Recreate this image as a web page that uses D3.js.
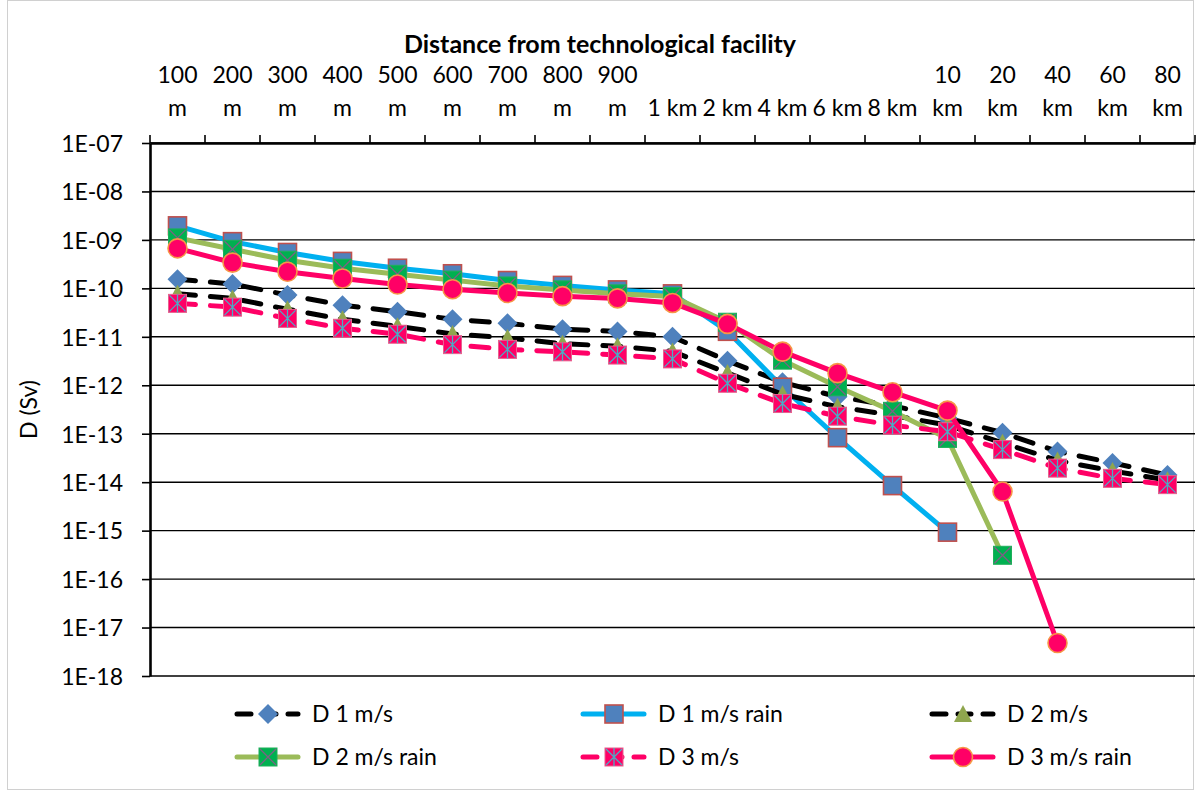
<!DOCTYPE html>
<html>
<head>
<meta charset="utf-8">
<script src="https://cdn.jsdelivr.net/npm/d3@7.8.5/dist/d3.min.js"></script>
<style>
  body { margin: 0; background: #fff; }
  text { font-family: Lato, "Open Sans", sans-serif; fill: #000; }
</style>
</head>
<body>
<svg id="chart" width="1200" height="793"></svg>
<script>
// Distance categories along the top axis
const categories = ["100 m", "200 m", "300 m", "400 m", "500 m", "600 m", "700 m", "800 m", "900 m",
  "1 km", "2 km", "4 km", "6 km", "8 km", "10 km", "20 km", "40 km", "60 km", "80 km"];

// Dose axis ticks (Sv)
const yTickValues = [1e-7, 1e-8, 1e-9, 1e-10, 1e-11, 1e-12, 1e-13, 1e-14, 1e-15, 1e-16, 1e-17, 1e-18];
const yTickLabels = ["1E-07", "1E-08", "1E-09", "1E-10", "1E-11", "1E-12", "1E-13", "1E-14", "1E-15", "1E-16", "1E-17", "1E-18"];

const seriesNames = ["D 1 m/s", "D 1 m/s rain", "D 2 m/s", "D 2 m/s rain", "D 3 m/s", "D 3 m/s rain"];

// Dose values per distance; null where no value is given
const d1 = [1.55e-10, 1.23e-10, 7.3e-11, 4.5e-11, 3.3e-11, 2.3e-11, 1.9e-11, 1.44e-11, 1.29e-11, 1.0e-11,
  3.2e-12, 1.15e-12, 5.8e-13, 3.8e-13, 2.1e-13, 1.05e-13, 4.3e-14, 2.5e-14, 1.4e-14];
const d1Rain = [1.95e-9, 9.2e-10, 5.5e-10, 3.6e-10, 2.6e-10, 2.0e-10, 1.45e-10, 1.15e-10, 9.3e-11, 7.7e-11,
  1.3e-11, 9.1e-13, 8.3e-14, 8.5e-15, 9.3e-16, null, null, null, null];
const d2 = [7.7e-11, 6.2e-11, 3.7e-11, 2.3e-11, 1.65e-11, 1.15e-11, 9.5e-12, 7.2e-12, 6.4e-12, 5.0e-12,
  1.8e-12, 6.5e-13, 3.6e-13, 2.4e-13, 1.5e-13, 6.5e-14, 2.8e-14, 1.7e-14, 1.1e-14];
const d2Rain = [1.1e-9, 6.4e-10, 3.8e-10, 2.6e-10, 1.95e-10, 1.48e-10, 1.12e-10, 9.3e-11, 7.7e-11, 6.8e-11,
  2.0e-11, 3.3e-12, 9.3e-13, 2.9e-13, 8.0e-14, 3.1e-16, null, null, null];
const d3s = [4.9e-11, 4.1e-11, 2.4e-11, 1.5e-11, 1.13e-11, 6.9e-12, 5.5e-12, 4.9e-12, 4.2e-12, 3.5e-12,
  1.1e-12, 4.2e-13, 2.3e-13, 1.5e-13, 1.1e-13, 4.7e-14, 1.95e-14, 1.2e-14, 8.9e-15];
const d3Rain = [6.7e-10, 3.4e-10, 2.2e-10, 1.6e-10, 1.2e-10, 9.6e-11, 8.0e-11, 6.9e-11, 6.2e-11, 5.0e-11,
  1.85e-11, 4.95e-12, 1.78e-12, 7.2e-13, 3.0e-13, 6.4e-15, 4.8e-18, null, null];

const seriesValues = [d1, d1Rain, d2, d2Rain, d3s, d3Rain];

// Appearance of each series
const styles = [
  { stroke: "#000000", dash: "18,15", marker: "diamond" },
  { stroke: "#00B0F0", dash: null, marker: "square" },
  { stroke: "#000000", dash: "18,15", marker: "triangle" },
  { stroke: "#9BBB59", dash: null, marker: "xsquare" },
  { stroke: "#FF0066", dash: "18,15", marker: "starsquare" },
  { stroke: "#FF0066", dash: null, marker: "circle" }
];

const svg = d3.select("#chart");
svg.append("rect").attr("width", 1200).attr("height", 793).attr("fill", "#fff");
// chart area frame
svg.append("rect").attr("x", 7.5).attr("y", 0.5).attr("width", 1186).attr("height", 789)
  .attr("fill", "none").attr("stroke", "#d0d0d0").attr("stroke-width", 1);

const plot = { left: 150, right: 1195, top: 143, bottom: 676 };

const x = d3.scaleBand().domain(categories).range([plot.left, plot.right]).padding(0);
const y = d3.scaleLog().domain([1e-18, 1e-7]).range([plot.bottom, plot.top]);
const cx = c => x(c) + x.bandwidth() / 2;

// horizontal gridlines
svg.append("g").selectAll("line").data(yTickValues).join("line")
  .attr("x1", plot.left).attr("x2", plot.right)
  .attr("y1", d => y(d)).attr("y2", d => y(d))
  .attr("stroke", "#000").attr("stroke-width", 1.4);

// left axis
const yAxis = svg.append("g").attr("transform", `translate(${plot.left},0)`)
  .call(d3.axisLeft(y).tickValues(yTickValues).tickFormat((d, i) => yTickLabels[i])
    .tickSizeInner(8).tickSizeOuter(0).tickPadding(19));
yAxis.select(".domain").attr("stroke", "#000").attr("stroke-width", 2.6);
yAxis.selectAll(".tick line").attr("stroke", "#000").attr("stroke-width", 1.6);
yAxis.selectAll(".tick text").attr("font-size", 23).attr("dy", "0.36em");

// top axis with labels wrapped to the category width
const xAxis = svg.append("g").attr("transform", `translate(0,${plot.top})`)
  .call(d3.axisTop(x).tickSizeInner(0).tickSizeOuter(0));
xAxis.select(".domain").attr("stroke", "#000").attr("stroke-width", 2.6);
xAxis.selectAll(".tick line").remove();
xAxis.selectAll(".tick text").each(function (d) {
  const t = d3.select(this);
  t.attr("font-size", 23).attr("dy", null).attr("y", null);
  const full = t.text();
  const w = this.getComputedTextLength();
  t.text(null);
  const lines = (w > x.bandwidth() - 2) ? full.split(" ") : [full];
  const lastBase = -27, lh = 33;
  lines.forEach((ln, i) => {
    t.append("tspan").attr("x", 0).attr("y", lastBase - (lines.length - 1 - i) * lh).text(ln);
  });
});
// category boundary ticks
const bounds = categories.map(c => x(c)).concat([x.range()[1]]);
xAxis.append("g").selectAll("line").data(bounds).join("line")
  .attr("x1", d => d).attr("x2", d => d).attr("y1", 0).attr("y2", -8)
  .attr("stroke", "#000").attr("stroke-width", 1.6);

// titles
svg.append("text").attr("x", 600).attr("y", 53).attr("text-anchor", "middle")
  .attr("font-size", 25).attr("font-weight", "bold").text("Distance from technological facility");
svg.append("text").attr("transform", `translate(37,${(plot.top + plot.bottom) / 2}) rotate(-90)`)
  .attr("text-anchor", "middle").attr("font-size", 23).text("D (Sv)");

// marker drawing
function drawMarker(g, type) {
  if (type === "diamond") {
    g.append("path").attr("d", "M0,-10L10,0L0,10L-10,0Z").attr("fill", "#4F81BD");
  } else if (type === "square") {
    g.append("rect").attr("x", -9).attr("y", -9).attr("width", 18).attr("height", 18)
      .attr("fill", "#4F81BD").attr("stroke", "#C0504D").attr("stroke-width", 1.6);
  } else if (type === "triangle") {
    g.append("path").attr("d", "M0,-9L9,8L-9,8Z").attr("fill", "#8FA64E");
  } else if (type === "xsquare") {
    g.append("rect").attr("x", -9).attr("y", -9).attr("width", 18).attr("height", 18)
      .attr("fill", "#00B050").attr("stroke", "#1FAF5A").attr("stroke-width", 1);
    g.append("path").attr("d", "M-8,-8L8,8M8,-8L-8,8").attr("stroke", "#7F6084").attr("stroke-width", 1.3);
  } else if (type === "starsquare") {
    g.append("rect").attr("x", -9).attr("y", -9).attr("width", 18).attr("height", 18)
      .attr("fill", "#FF0066").attr("stroke", "#E8608E").attr("stroke-width", 1);
    g.append("path").attr("d", "M-8,-8L8,8M8,-8L-8,8M0,-9L0,9").attr("stroke", "#4BACC6").attr("stroke-width", 1.3);
  } else if (type === "circle") {
    g.append("circle").attr("r", 9.5).attr("fill", "#FF0066").attr("stroke", "#F79646").attr("stroke-width", 1.6);
  }
}

const lineGen = d3.line().defined(d => d.v != null).x(d => cx(d.c)).y(d => y(d.v));

seriesValues.forEach((vals, si) => {
  const st = styles[si];
  const pts = categories.map((c, i) => ({ c, v: vals[i] }));
  const g = svg.append("g");
  g.append("path").datum(pts).attr("d", lineGen).attr("fill", "none")
    .attr("stroke", st.stroke).attr("stroke-width", 5)
    .attr("stroke-linecap", st.dash ? "round" : "butt").attr("stroke-linejoin", "round")
    .attr("stroke-dasharray", st.dash);
  pts.filter(p => p.v != null).forEach(p => {
    drawMarker(g.append("g").attr("transform", `translate(${cx(p.c)},${y(p.v)})`), st.marker);
  });
});

// legend
const legendCols = [235, 581, 930];
const legendRows = [714, 757];
seriesNames.forEach((name, i) => {
  const st = styles[i];
  const lx = legendCols[i % 3], ly = legendRows[Math.floor(i / 3)];
  const g = svg.append("g").attr("transform", `translate(${lx},${ly})`);
  g.append("line").attr("x1", 2).attr("x2", 63).attr("y1", 0).attr("y2", 0)
    .attr("stroke", st.stroke).attr("stroke-width", 5)
    .attr("stroke-linecap", "round")
    .attr("stroke-dasharray", st.dash ? "14,12,13,12,14" : null);
  drawMarker(g.append("g").attr("transform", "translate(33,0)"), st.marker);
  g.append("text").attr("x", 77).attr("y", 0).attr("dy", "0.36em").attr("font-size", 23).text(name);
});
</script>
</body>
</html>
